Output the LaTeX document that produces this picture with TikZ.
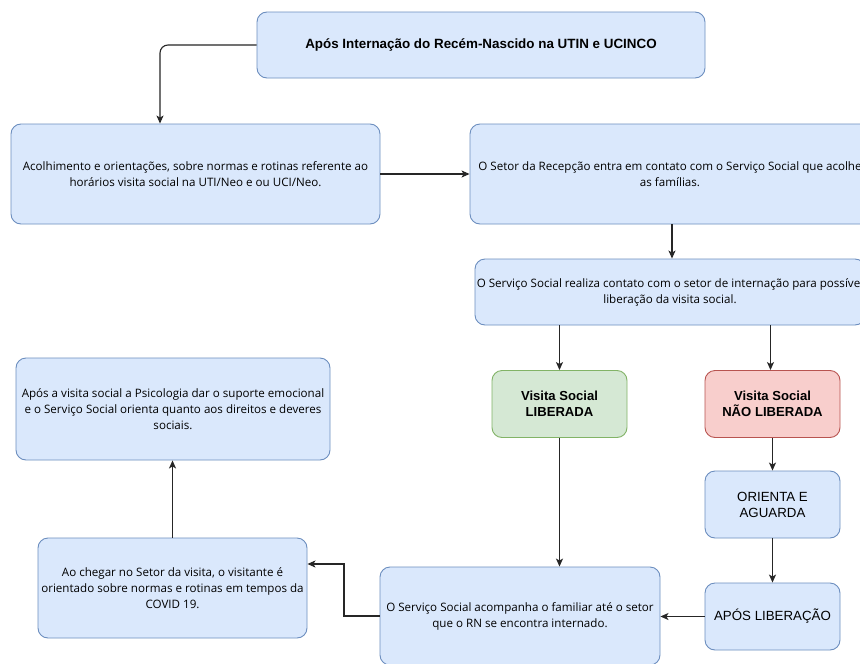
\documentclass[tikz,border=0pt]{standalone}
\usepackage{fontspec}
\setmainfont{Open Sans}
\newfontfamily\arialf{Liberation Sans}
\usetikzlibrary{arrows.meta,calc}
\definecolor{bfill}{HTML}{DAE8FC}
\definecolor{bdraw}{HTML}{6C8EBF}
\definecolor{gfill}{HTML}{D5E8D4}
\definecolor{gdraw}{HTML}{82B366}
\definecolor{rfill}{HTML}{F8CECC}
\definecolor{rdraw}{HTML}{B85450}
\begin{document}
\begin{tikzpicture}[x=1pt,y=-1pt,
  box/.style={draw=bdraw,fill=bfill,rounded corners=10pt,line width=0.9pt,align=center,inner sep=0pt},
  gbox/.style={box,draw=gdraw,fill=gfill},
  rbox/.style={box,draw=rdraw,fill=rfill},
  body/.style={font=\fontsize{11.6}{16}\selectfont},
  head/.style={font=\arialf\bfseries\fontsize{13.1}{16}\selectfont},
  plain/.style={font=\arialf\fontsize{13.3}{16}\selectfont},
  arr/.style={draw=black!85,line width=1.1pt,-{Stealth[length=8pt,width=7pt,inset=2pt]}}]
\clip (0,0) rectangle (860,664);
\fill[white] (0,0) rectangle (860,664);
\node[box,minimum width=448pt,minimum height=66pt,font=\arialf\bfseries\fontsize{13.4}{15}\selectfont] (top) at (481,45) {Após Internação do Recém-Nascido na UTIN e UCINCO};
\node[box,body,minimum width=369pt,minimum height=100pt] (A) at (195.5,174) {Acolhimento e orientações, sobre normas e rotinas referente ao\\horários visita social na UTI/Neo e ou UCI/Neo.};
\node[box,body,minimum width=400pt,minimum height=100pt] (B) at (670,174) {O Setor da Recepção entra em contato com o Serviço Social que acolhe\\as famílias.};
\node[box,body,minimum width=390pt,minimum height=66pt] (C) at (670,292) {O Serviço Social realiza contato com o setor de internação para possível\\liberação da visita social.};
\node[gbox,head,minimum width=135pt,minimum height=67pt] (lib) at (559.5,404) {Visita Social\\LIBERADA};
\node[rbox,head,minimum width=135pt,minimum height=67pt] (nao) at (772.5,404) {Visita Social\\NÃO LIBERADA};
\node[box,plain,minimum width=135pt,minimum height=67pt] (ori) at (772.5,504.5) {ORIENTA E\\AGUARDA};
\node[box,plain,minimum width=135pt,minimum height=67pt] (apl) at (772.5,616.5) {APÓS LIBERAÇÃO};
\node[box,body,minimum width=280pt,minimum height=98pt] (acomp) at (520,616) {O Serviço Social acompanha o familiar até o setor\\que o RN se encontra internado.};
\node[box,body,minimum width=269pt,minimum height=100pt] (cheg) at (172.5,588) {Ao chegar no Setor da visita, o visitante é\\orientado sobre normas e rotinas em tempos da\\COVID 19.};
\node[box,body,minimum width=314pt,minimum height=102pt] (vis) at (173,409) {Após a visita social a Psicologia dar o suporte emocional\\e o Serviço Social orienta quanto aos direitos e deveres\\sociais.};
\coordinate (k1) at (344,564);
\draw[arr,rounded corners=8pt] (top.west) -| ([xshift=-35.5pt]A.north);
\draw[arr] (A.east) -- (B.west);
\draw[arr] ([xshift=2pt]B.south) -- ([xshift=2pt]B.south |- C.north);
\draw[arr] (lib.north |- C.south) -- (lib.north);
\draw[arr] ([xshift=-2pt]nao.north |- C.south) -- ([xshift=-2pt]nao.north);
\draw[arr] (lib.south) -- (lib.south |- acomp.north);
\draw[arr] (nao.south) -- (ori.north);
\draw[arr] (ori.south) -- (apl.north);
\draw[arr] (apl.west) -- (apl.west -| acomp.east);
\draw[arr] (acomp.west) -| (k1) -- (k1 -| cheg.east);
\draw[arr] (cheg.north) -- (cheg.north |- vis.south);
\end{tikzpicture}
\end{document}
